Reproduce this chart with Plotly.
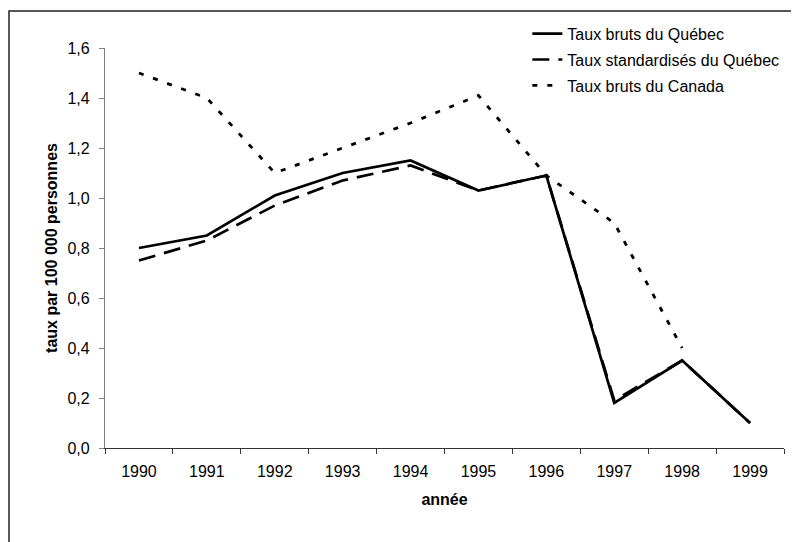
import plotly.graph_objects as go

annees = ["1990", "1991", "1992", "1993", "1994", "1995", "1996", "1997", "1998", "1999"]
bruts_quebec = [0.80, 0.85, 1.01, 1.10, 1.15, 1.03, 1.09, 0.18, 0.35, 0.10]
std_quebec = [0.75, 0.83, 0.97, 1.07, 1.13, 1.03, 1.09, 0.19, 0.35, 0.10]
bruts_canada = [1.50, 1.40, 1.10, 1.20, 1.30, 1.41, 1.09, 0.90, 0.40, None]

font = "Liberation Sans, Arial, sans-serif"

fig = go.Figure()

fig.add_trace(go.Scatter(x=annees, y=bruts_quebec, mode="lines",
                         name="Taux bruts du Québec", legendgroup="a",
                         line=dict(color="black", width=2.7)))
fig.add_trace(go.Scatter(x=annees, y=std_quebec, mode="lines",
                         name="Taux standardisés du Québec", legendgroup="b",
                         line=dict(color="black", width=2.7, dash="17px,9px")))
fig.add_trace(go.Scatter(x=annees, y=bruts_canada, mode="lines",
                         name="Taux bruts du Canada", legendgroup="c",
                         line=dict(color="black", width=2.8, dash="5px,10px"),
                         connectgaps=False))

# cadre du graphique (seuls les bords gauche et haut tombent dans l'image)
fig.add_shape(type="rect", xref="paper", yref="paper",
              x0=-0.1414, x1=1.2, y0=-0.4, y1=1.0925,
              line=dict(color="#222222", width=1.5), fillcolor="rgba(0,0,0,0)",
              layer="above")

fig.update_layout(
    width=799, height=542,
    margin=dict(l=97, r=23, t=40, b=102, autoexpand=False),
    paper_bgcolor="white", plot_bgcolor="white",
    font=dict(family=font, size=16, color="black"),
    separators=", ",
    showlegend=True,
    legend=dict(x=0.622, y=1.078, xanchor="left", yanchor="top",
                bgcolor="rgba(0,0,0,0)", traceorder="grouped",
                tracegroupgap=2, font=dict(size=16)),
)

fig.update_xaxes(type="category", range=[-0.5, 9.5],
                 showline=True, linecolor="#333333", linewidth=1.2,
                 ticks="outside", tickson="boundaries", ticklen=5,
                 tickcolor="#333333", showgrid=False, zeroline=False,
                 ticklabelstandoff=9,
                 title=dict(text="<b>année</b>", font=dict(size=16), standoff=14))
fig.update_yaxes(range=[0, 1.6], dtick=0.2, tickformat=".1f",
                 showline=True, linecolor="#808080", linewidth=1.2,
                 ticks="outside", ticklen=5, tickcolor="#808080",
                 showgrid=False, zeroline=False, ticklabelstandoff=6,
                 title=dict(text="<b>taux par 100 000 personnes</b>",
                            font=dict(size=16), standoff=5))

fig.write_html("out.html")
